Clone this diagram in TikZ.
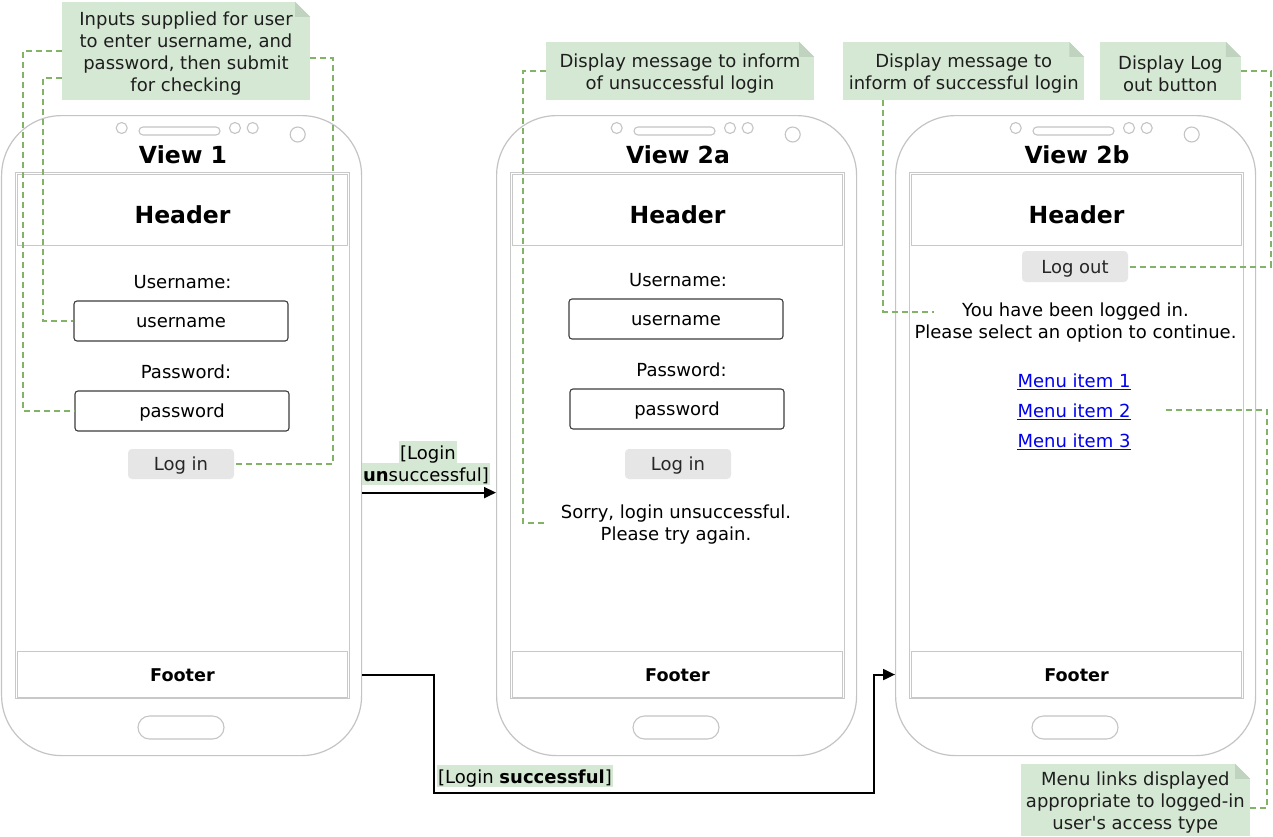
\documentclass[tikz,border=0pt]{standalone}
\usepackage{fontspec}
\setmainfont{DejaVu Sans}
\usetikzlibrary{arrows.meta,calc}
\definecolor{notefill}{HTML}{D5E8D4}
\definecolor{notefoldc}{HTML}{BFD3BE}
\definecolor{notetext}{HTML}{1E1E1E}
\definecolor{dashgreen}{HTML}{82B366}
\definecolor{framegray}{HTML}{C4C4C4}
\definecolor{screengray}{HTML}{C8C8C8}
\definecolor{btngray}{HTML}{E6E6E6}
\definecolor{linkblue}{HTML}{0000EE}
\definecolor{boxborder}{HTML}{3C3C3C}
\newcommand{\mytxt}{\fontsize{18pt}{22pt}\selectfont}
\newcommand{\mytitle}{\fontsize{23.5pt}{28pt}\selectfont\bfseries}
\newcommand{\myfoot}{\fontsize{17.6pt}{21pt}\selectfont\bfseries}
\newcommand{\notestrut}{\rule{0pt}{18.5pt}}
\newcommand{\notecorner}[1]{%
  \fill[white] ($(#1.north east)+(-15,0)$) -- (#1.north east) -- ($(#1.north east)+(0,15)$) -- cycle;
  \fill[notefoldc] ($(#1.north east)+(-15,0)$) -- ($(#1.north east)+(-15,15)$) -- ($(#1.north east)+(0,15)$) -- cycle;}
\tikzset{
  x=1pt, y=-1pt,
  phonebody/.style={draw=framegray, line width=1.2pt, rounded corners=60pt, minimum width=360pt, minimum height=640pt, inner sep=0pt},
  screenbox/.style={draw=screengray, line width=1.1pt, inner sep=0pt},
  plain/.style={font=\mytxt, text=black, inner sep=0pt},
  inbox/.style={draw=boxborder, line width=1.1pt, rounded corners=3pt, minimum width=214pt, minimum height=40pt, inner sep=0pt, font=\mytxt, text=black, text height=12pt, text depth=0pt},
  btnbox/.style={fill=btngray, rounded corners=4pt, minimum width=106pt, minimum height=30pt, inner sep=0pt, font=\mytxt, text=black!85, text height=13pt, text depth=0pt},
  notebox/.style={fill=notefill, font=\mytxt, text=notetext, align=center, inner sep=0pt},
  flowlabel/.style={fill=notefill, font=\mytxt, text=black, inner xsep=1.5pt, inner ysep=0pt, text height=18pt, text depth=4pt},
  helper/.style={draw=dashgreen, line width=2pt, dash pattern=on 6pt off 4pt},
  flow/.style={draw=black, line width=2pt, -{Triangle[length=12pt,width=11pt]}},
  linktext/.style={font=\mytxt, text=linkblue, inner sep=0pt},
  pics/phone/.style={code={
    \node[phonebody, anchor=north west] (-body) at (0,0) {};
    \draw[framegray, line width=1.1pt] (120.7,13) circle[radius=5.5pt];
    \draw[framegray, line width=1.1pt, rounded corners=4pt] (138,12) rectangle (219,20);
    \draw[framegray, line width=1.1pt] (234,13) circle[radius=5.5pt];
    \draw[framegray, line width=1.1pt] (251.7,13) circle[radius=5.5pt];
    \draw[framegray, line width=1.1pt] (296.7,19.5) circle[radius=7.5pt];
    \node[screenbox, anchor=north west, minimum width=334pt, minimum height=526pt] (-screen) at (14,57) {};
    \node[screenbox, anchor=north west, minimum width=330pt, minimum height=71pt] (-header) at (16,59) {};
    \node[screenbox, anchor=north west, minimum width=330pt, minimum height=46pt] (-footer) at (16,536) {};
    \node[font=\mytitle, inner sep=0pt, anchor=base] (-title) at (182,48) {#1};
    \node[font=\mytitle, inner sep=0pt, anchor=base] (-htext) at (181.5,108) {Header};
    \node[font=\myfoot, inner sep=0pt, anchor=base] (-ftext) at (181.5,566) {Footer};
    \draw[framegray, line width=1.1pt, rounded corners=11.5pt] (137,601) rectangle (223,624);
  }}
}
\begin{document}
\begin{tikzpicture}
\useasboundingbox (0,0) rectangle (1273,836);
\fill[white] (0,0) rectangle (1273,836);

% phones
\pic (p1) at (1,115) {phone=View 1};
\pic (p2) at (496,115) {phone=View 2a};
\pic (p3) at (895,115) {phone=View 2b};

% view 1 content
\node[plain, anchor=base] (ul1) at (182.6,288) {Username:};
\node[inbox] (u1) at (181,321) {username};
\node[plain, anchor=base] (pl1) at (186,378) {Password:};
\node[inbox] (pw1) at (182,411) {password};
\node[btnbox] (li1) at (181,464) {Log in};

% view 2a content
\node[plain, anchor=base] (ul2) at (678,286) {Username:};
\node[inbox] (u2) at (676,319) {username};
\node[plain, anchor=base] (pl2) at (681.5,376) {Password:};
\node[inbox] (pw2) at (677,409) {password};
\node[btnbox] (li2) at (678,464) {Log in};
\node[plain, align=center] (sorry) at (676,524.5) {Sorry, login unsuccessful.\\Please try again.};

% view 2b content
\node[btnbox, minimum height=31pt] (lo) at (1075,266.5) {Log out};
\node[plain, align=center] (logged) at (1075.5,322.5) {You have been logged in.\\Please select an option to continue.};
\node[linktext, anchor=base] (m1) at (1074,387) {Menu item 1};
\node[linktext, anchor=base] (m2) at (1074,417) {Menu item 2};
\node[linktext, anchor=base] (m3) at (1074,447) {Menu item 3};
\foreach \m in {m1,m2,m3}
  \draw[linkblue, line width=1.3pt] ([yshift=-2.5pt]\m.base west) -- ([yshift=-2.5pt]\m.base east);

% notes
\node[notebox, minimum width=248pt, minimum height=98pt] (n1) at (186,51)
  {\notestrut Inputs supplied for user\\to enter username, and\\password, then submit\\for checking};
\notecorner{n1}
\node[notebox, minimum width=268pt, minimum height=58pt] (n2) at (680,71)
  {\notestrut Display message to inform\\of unsuccessful login};
\notecorner{n2}
\node[notebox, minimum width=240.7pt, minimum height=58pt] (n3) at (963.7,71)
  {\notestrut Display message to\\inform of successful login};
\notecorner{n3}
\node[notebox, minimum width=140.7pt, minimum height=58pt] (n4) at (1170.3,71)
  {\notestrut Display Log\\out button};
\notecorner{n4}
\node[notebox, minimum width=229.3pt, minimum height=72pt] (n5) at (1135.3,800)
  {\notestrut Menu links displayed\\appropriate to logged-in\\user\textquotesingle s access type};
\notecorner{n5}

% helper (dashed) connectors
\draw[helper] (n1.west) -- ++(-39,0) |- (pw1.west);
\draw[helper] ([yshift=-27pt]n1.west) -- ++(-19,0) |- (u1.west);
\draw[helper] ([yshift=-7pt]n1.east) -- ++(23,0) |- (li1.east);
\draw[helper] (n2.west) -- ++(-23,0) |- ([xshift=-16pt,yshift=2pt]sorry.west);
\draw[helper] ([xshift=-80.4pt]n3.south) |- ([xshift=20pt,yshift=11pt]logged.west);
\draw[helper] (n4.east) -- ++(30,0) |- (lo.east);
\draw[helper] ([yshift=-8pt]n5.east) -- ++(17,0) |- ([xshift=33pt]m2.east);

% flow arrows
\draw[flow] ([yshift=-57pt]p1-body.east) -- ([yshift=-57pt]p2-body.west);
\node[flowlabel] (la1) at (428,452) {[Login};
\node[flowlabel] (la2) at (426,474) {\textbf{un}successful]};
\draw[flow] (p1-body.east |- p1-footer) -- ++(72,0) -- ++(0,118)
  -| ([xshift=-21pt]p3-body.west |- p3-footer) -- (p3-body.west |- p3-footer);
\node[flowlabel] (lb) at (525,776) {[Login \textbf{successful}]};
\end{tikzpicture}
\end{document}
